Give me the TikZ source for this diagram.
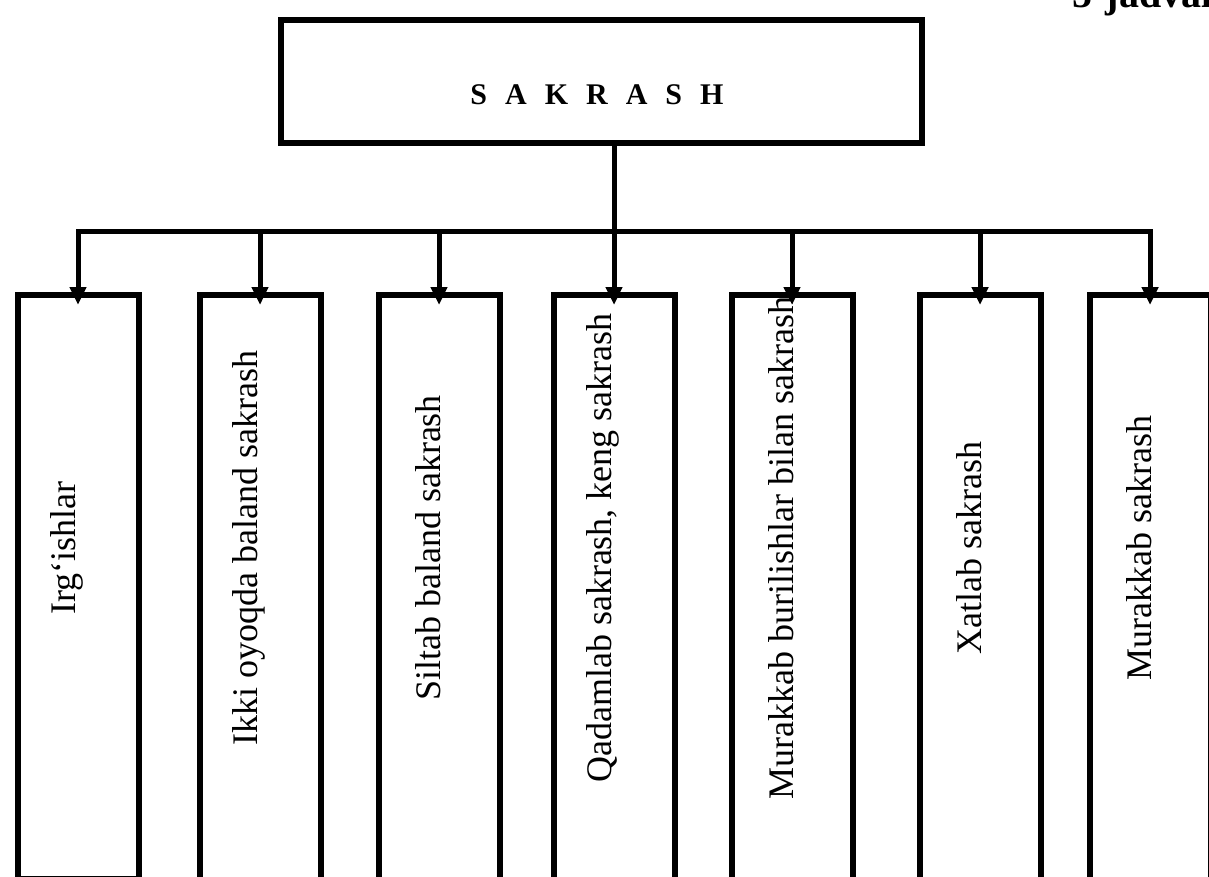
\documentclass[tikz,border=0pt]{standalone}
\usepackage{fontspec}
\setmainfont{Liberation Serif}
\usetikzlibrary{arrows.meta}

\begin{document}
\begin{tikzpicture}[x=0.5pt,y=-0.5pt]
\tikzset{HeadStyle/.style = {draw, line width=3pt, minimum width=320.5pt, minimum height=61.5pt, inner sep=0pt},
  BoxStyle/.style = {draw, line width=3pt, anchor=north, minimum width=60.5pt, minimum height=310pt, inner sep=0pt},
  TextStyle/.style = {rotate=90, font=\fontsize{18}{20}\selectfont, inner sep=0pt},
  LinkStyle/.style = {line width=2.5pt, -{Triangle[width=8pt,length=9pt]}, shorten >=-6.5pt}
}
\useasboundingbox (0,0) rectangle (1209,877);

    % Head box
    \node[HeadStyle] (head) at (601.5,81.5) {};
    \node[font=\bfseries\fontsize{15}{18}\selectfont, inner sep=0pt] (title) at (597,95)
        {S\hspace{0.6em}A\hspace{0.6em}K\hspace{0.6em}R\hspace{0.6em}A\hspace{0.6em}S\hspace{0.6em}H};
    \node[anchor=base west, font=\bfseries\fontsize{20}{22}\selectfont, inner sep=0pt] (tabno) at (1072,8) {5-jadval};

    % Kinds of jumps
    \foreach \i/\x/\txt in {1/78/Irg‘ishlar, 2/260/Ikki oyoqda baland sakrash, 3/439/Siltab baland sakrash,
        4/614/{Qadamlab sakrash, keng sakrash}, 5/792/Murakkab burilishlar bilan sakrash,
        6/980/Xatlab sakrash, 7/1150/Murakkab sakrash} {
        \node[BoxStyle] (b\i) at (\x,292) {};
        \node[TextStyle] (t\i) at (\x-11,548) {\txt};
    }
    \node[BoxStyle, minimum height=292pt] (b1) at (78,292) {};

    % Connectors
    \coordinate (bus) at (0,232);
    \draw[LinkStyle] (head.south -| b4.north) -- (b4.north);
    \draw[LinkStyle, {Triangle[width=8pt,length=9pt]}-{Triangle[width=8pt,length=9pt]}, shorten <=-6.5pt]
        (b1.north) |- (b7.north |- bus) -- (b7.north);
    \foreach \i in {2,3,5,6}
        \draw[LinkStyle] (b\i.north |- bus) -- (b\i.north);
\end{tikzpicture}
\end{document}
